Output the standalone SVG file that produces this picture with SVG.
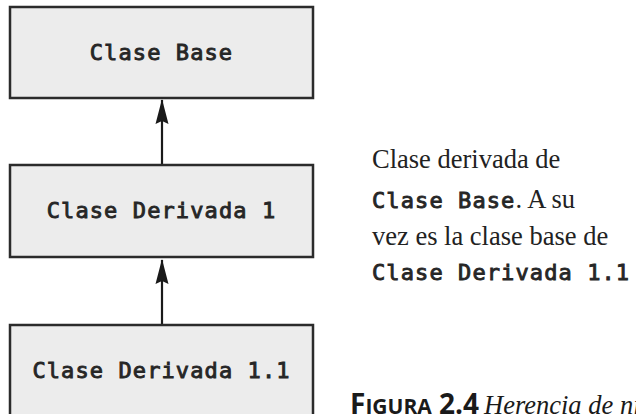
<svg xmlns="http://www.w3.org/2000/svg" width="636" height="414" viewBox="0 0 636 414">
<defs>
<style>
.box{fill:#ececec;stroke:#2b2b2b;stroke-width:2.5}
.mono{font-family:"DejaVu Sans Mono","Liberation Mono",monospace;font-size:22px;letter-spacing:1.1px;fill:#262626;stroke:#262626;stroke-width:0.9}
.serif{font-family:"Liberation Serif","Times New Roman",serif;font-size:26.5px;fill:#222}
.conn{stroke:#1a1a1a;stroke-width:2.2;fill:none}
.cap{font-family:"Open Sans","Noto Sans",sans-serif;font-weight:bold;fill:#1a1a1a}
.capi{font-family:"Liberation Serif","Times New Roman",serif;font-style:italic;font-size:26.5px;fill:#1a1a1a}
</style>
<marker id="ah" markerUnits="userSpaceOnUse" markerWidth="26" markerHeight="14" viewBox="0 0 26 14" refX="25" refY="7" orient="auto">
<path d="M26,7 L1,0.5 L4,7 L1,13.5 Z" fill="#1a1a1a"/>
</marker>
</defs>
<rect width="636" height="414" fill="#ffffff"/>
<g id="connectors">
<line class="conn" x1="162" y1="165" x2="162" y2="100" marker-end="url(#ah)"/>
<line class="conn" x1="162" y1="325" x2="162" y2="260" marker-end="url(#ah)"/>
</g>
<g id="clase-base">
<rect class="box" x="10" y="7" width="303" height="91"/>
<text class="mono" x="161.5" y="60" text-anchor="middle">Clase Base</text>
</g>
<g id="clase-derivada-1">
<rect class="box" x="10" y="165" width="303" height="92"/>
<text class="mono" x="161.5" y="218" text-anchor="middle">Clase Derivada 1</text>
</g>
<g id="clase-derivada-1-1">
<rect class="box" x="10" y="325" width="303" height="100"/>
<text class="mono" x="161.5" y="378" text-anchor="middle">Clase Derivada 1.1</text>
</g>
<g id="nota">
<text class="serif" x="372" y="168">Clase derivada de</text>
<text x="372" y="208"><tspan class="mono">Clase Base</tspan><tspan class="serif">. A su</tspan></text>
<text class="serif" x="372" y="245">vez es la clase base de</text>
<text class="mono" x="372" y="280">Clase Derivada 1.1</text>
</g>
<g id="caption">
<text class="cap" x="350" y="414"><tspan font-size="28">F</tspan><tspan font-size="21">IGURA</tspan><tspan font-size="28"> 2.4</tspan></text>
<text class="capi" x="484" y="414">Herencia de ni</text>
</g>
</svg>
